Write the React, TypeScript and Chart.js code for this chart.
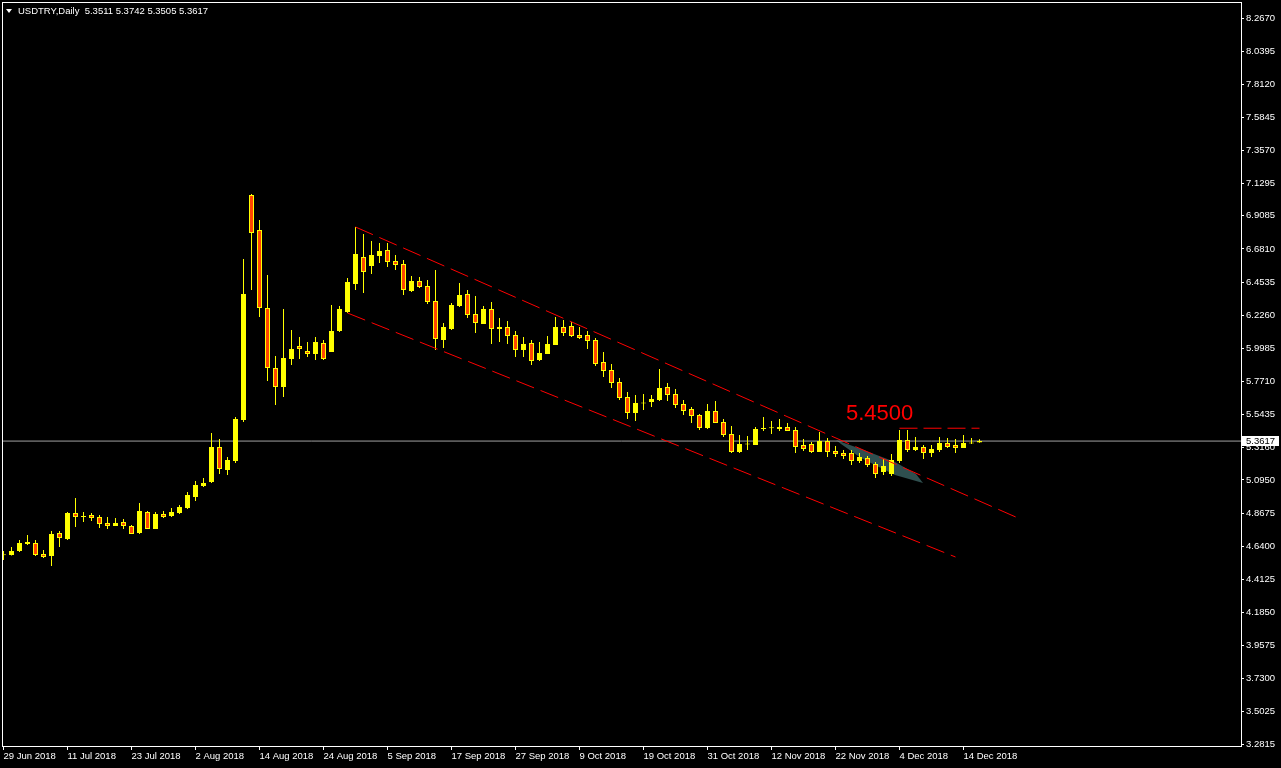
import React, { useEffect, useRef } from "react";
import { Chart, registerables } from "chart.js";

Chart.register(...registerables);

// ---- Data (USDTRY daily, 29 Jun 2018 .. 18 Dec 2018) ----
const opens = [
  4.5770, 4.5794, 4.6068, 4.6549, 4.6618, 4.5862, 4.5725, 4.7304, 4.6892, 4.8678,
  4.8410, 4.8540, 4.8403, 4.7991, 4.7785, 4.8060, 4.7785, 4.7304, 4.8746, 4.7579,
  4.8609, 4.8472, 4.8678, 4.9021, 4.9776, 5.0531, 5.0806, 5.3210, 5.1631, 5.2249,
  5.5064, 7.0515, 6.8112, 6.2756, 5.8635, 5.7331, 5.9253, 6.0146, 5.9803, 5.9597,
  6.0352, 5.9734, 6.1176, 6.2481, 6.4403, 6.6258, 6.5640, 6.6326, 6.6738, 6.5983,
  6.5777, 6.3923, 6.4609, 6.4266, 6.3236, 6.0558, 6.1313, 6.2893, 6.3717, 6.2344,
  6.1656, 6.2687, 6.1313, 6.1450, 6.0901, 5.9871, 6.0352, 5.9184, 5.9597, 6.0215,
  6.1450, 6.1519, 6.0901, 6.0901, 6.0558, 5.9047, 5.8498, 5.7674, 5.6644, 5.5545,
  5.6197, 5.6300, 5.6438, 5.7331, 5.6850, 5.6163, 5.5820, 5.5408, 5.4515, 5.5682,
  5.4927, 5.4103, 5.2867, 5.3382, 5.3347, 5.4440, 5.4505, 5.4446, 5.4584, 5.4378,
  5.3347, 5.3416, 5.2867, 5.3622, 5.2935, 5.2798, 5.2798, 5.2249, 5.2455, 5.2043,
  5.1493, 5.1356, 5.2249, 5.3691, 5.3004, 5.3210, 5.2798, 5.3004, 5.3485, 5.3347,
  5.3141, 5.3451, 5.3511,
];
const highs = [
  4.6068, 4.6343, 4.6824, 4.7167, 4.6824, 4.6137, 4.7442, 4.7442, 4.8746, 4.9707,
  4.8746, 4.8678, 4.8540, 4.8403, 4.8334, 4.8266, 4.7854, 4.9364, 4.8815, 4.8746,
  4.8815, 4.9021, 4.9227, 5.0119, 5.0874, 5.1080, 5.4172, 5.3759, 5.2524, 5.5271,
  6.6121, 7.0584, 6.8799, 6.5022, 5.9459, 6.2687, 6.1244, 6.0764, 6.0421, 6.0764,
  6.0558, 6.2962, 6.2893, 6.4815, 6.8318, 6.7837, 6.7357, 6.7219, 6.7219, 6.6395,
  6.6052, 6.4953, 6.4884, 6.4678, 6.5365, 6.1725, 6.3099, 6.4472, 6.3992, 6.3580,
  6.2893, 6.3168, 6.2069, 6.1862, 6.1176, 6.0764, 6.0558, 6.0421, 6.0833, 6.2138,
  6.1931, 6.1794, 6.1450, 6.1176, 6.0695, 5.9734, 5.8910, 5.7949, 5.6987, 5.6781,
  5.6850, 5.6781, 5.8566, 5.7605, 5.7193, 5.6438, 5.5957, 5.5476, 5.6163, 5.6369,
  5.5133, 5.4652, 5.4034, 5.3966, 5.4584, 5.5270, 5.4996, 5.5133, 5.4858, 5.4584,
  5.3759, 5.3553, 5.4240, 5.3828, 5.3278, 5.3004, 5.3004, 5.2798, 5.2592, 5.2180,
  5.2386, 5.2730, 5.4378, 5.4378, 5.3897, 5.3347, 5.3347, 5.3897, 5.3828, 5.3759,
  5.4034, 5.3828, 5.3742,
];
const lows = [
  4.5450, 4.5760, 4.6000, 4.6480, 4.5725, 4.5587, 4.5038, 4.6343, 4.6824, 4.7716,
  4.8060, 4.8129, 4.7648, 4.7579, 4.7785, 4.7579, 4.7236, 4.7236, 4.7579, 4.7579,
  4.8334, 4.8403, 4.8609, 4.8952, 4.9501, 5.0463, 5.0737, 5.1356, 5.1287, 5.2112,
  5.4927, 6.3992, 6.2138, 5.7743, 5.6094, 5.6644, 5.8841, 5.9253, 5.9390, 5.9184,
  5.9184, 5.9734, 6.1107, 6.2412, 6.3992, 6.3786, 6.5090, 6.5846, 6.5571, 6.5365,
  6.3648, 6.3854, 6.4129, 6.3030, 5.9871, 6.0009, 6.1244, 6.2824, 6.2069, 6.1038,
  6.1656, 6.0284, 6.0421, 6.0284, 5.9390, 5.9390, 5.8841, 5.9116, 5.9597, 6.0215,
  6.0832, 6.0764, 6.0626, 5.9940, 5.8772, 5.8017, 5.7262, 5.6438, 5.5133, 5.4996,
  5.5751, 5.5957, 5.6369, 5.6369, 5.5888, 5.5408, 5.4858, 5.4378, 5.4446, 5.4858,
  5.3897, 5.2798, 5.2798, 5.3004, 5.3347, 5.4309, 5.4103, 5.4309, 5.4309, 5.2798,
  5.2935, 5.2798, 5.2867, 5.2524, 5.2524, 5.2386, 5.1974, 5.2112, 5.1837, 5.1081,
  5.1287, 5.1219, 5.2112, 5.2867, 5.2935, 5.2386, 5.2524, 5.2867, 5.3141, 5.2798,
  5.3141, 5.3416, 5.3505,
];
const closes = [
  4.5790, 4.6068, 4.6618, 4.6686, 4.5794, 4.5656, 4.7236, 4.6961, 4.8678, 4.8403,
  4.8403, 4.8334, 4.7922, 4.7785, 4.7991, 4.7785, 4.7236, 4.8815, 4.7579, 4.8609,
  4.8403, 4.8746, 4.9090, 4.9913, 5.0600, 5.0737, 5.3210, 5.1700, 5.2318, 5.5133,
  6.3717, 6.7906, 6.2756, 5.8635, 5.7331, 5.9322, 5.9940, 5.9940, 5.9597, 6.0421,
  5.9253, 6.1176, 6.2687, 6.4541, 6.6464, 6.5228, 6.6395, 6.6670, 6.5915, 6.5709,
  6.3992, 6.4609, 6.4197, 6.3167, 6.0626, 6.1450, 6.2962, 6.3648, 6.2275, 6.1725,
  6.2687, 6.1313, 6.1450, 6.0832, 5.9871, 6.0284, 5.9116, 5.9665, 6.0284, 6.1450,
  6.1038, 6.0832, 6.0695, 6.0489, 5.8910, 5.8429, 5.7605, 5.6575, 5.5545, 5.6232,
  5.6232, 5.6506, 5.7262, 5.6781, 5.6094, 5.5682, 5.5339, 5.4515, 5.5682, 5.4858,
  5.4034, 5.2867, 5.3416, 5.3416, 5.4446, 5.4446, 5.4515, 5.4584, 5.4309, 5.3210,
  5.3073, 5.2867, 5.3622, 5.2867, 5.2730, 5.2592, 5.2249, 5.2524, 5.1974, 5.1356,
  5.1905, 5.2318, 5.3691, 5.3004, 5.3210, 5.2798, 5.3073, 5.3485, 5.3210, 5.3141,
  5.3485, 5.3485, 5.3617,
];

const xTickIndex = [0, 8, 16, 24, 32, 40, 48, 56, 64, 72, 80, 88, 96, 104, 112, 120];
const xTickLabels = [
  "29 Jun 2018", "11 Jul 2018", "23 Jul 2018", "2 Aug 2018", "14 Aug 2018", "24 Aug 2018",
  "5 Sep 2018", "17 Sep 2018", "27 Sep 2018", "9 Oct 2018", "19 Oct 2018", "31 Oct 2018",
  "12 Nov 2018", "22 Nov 2018", "4 Dec 2018", "14 Dec 2018",
];
const yTicks = [
  8.2670, 8.0395, 7.8120, 7.5845, 7.3570, 7.1295, 6.9085, 6.6810, 6.4535, 6.2260, 5.9985,
  5.7710, 5.5435, 5.3160, 5.0950, 4.8675, 4.6400, 4.4125, 4.1850, 3.9575, 3.7300, 3.5025, 3.2815,
];

// trend lines / objects (bar index, price)
const upperChannel = [{ x: 44, y: 6.8318 }, { x: 127.1, y: 4.8266 }];
const lowerChannel = [{ x: 43, y: 6.2412 }, { x: 119, y: 4.5656 }];
const levelLine = [{ x: 112, y: 5.45 }, { x: 122, y: 5.45 }];
const zonePolygon = [
  { x: 104.06, y: 5.3691 }, { x: 107.19, y: 5.3073 }, { x: 111.44, y: 5.2180 },
  { x: 114.06, y: 5.1356 }, { x: 114.94, y: 5.0738 }, { x: 111.44, y: 5.1288 },
  { x: 107.19, y: 5.2455 }, { x: 104.69, y: 5.3416 }, { x: 104.06, y: 5.3691 },
];
const lastPrice = 5.3617;
const levelText = "5.4500";
const headerText = "USDTRY,Daily  5.3511 5.3742 5.3505 5.3617";

const X_MIN = -0.1875;
const X_MAX = 154.6875;
const Y_MIN = 3.2609;
const Y_MAX = 8.3769;

const YELLOW = "#FFFF00";
const ORANGE = "#FF4500";
const FONT = "'Liberation Sans', Arial, sans-serif";

const framePlugin = {
  id: "frameAndTag",
  afterDraw(chart: any) {
    const { ctx, chartArea, scales } = chart;
    ctx.save();
    ctx.strokeStyle = "#FFFFFF";
    ctx.lineWidth = 1;
    ctx.strokeRect(
      Math.round(chartArea.left) + 0.5,
      Math.round(chartArea.top) + 0.5,
      Math.round(chartArea.right) - Math.round(chartArea.left),
      Math.round(chartArea.bottom) - Math.round(chartArea.top) - 1
    );
    const y = Math.round(scales.y.getPixelForValue(lastPrice));
    const x0 = Math.round(chartArea.right) + 1;
    ctx.fillStyle = "#FFFFFF";
    ctx.fillRect(x0, y - 5, 37, 10);
    ctx.fillStyle = "#000000";
    ctx.font = `9.5px ${FONT}`;
    ctx.textBaseline = "middle";
    ctx.textAlign = "left";
    ctx.fillText(lastPrice.toFixed(4), x0 + 4, y + 0.5);
    ctx.restore();
  },
};

export default function App() {
  const ref = useRef<HTMLCanvasElement>(null);

  useEffect(() => {
    document.body.style.margin = "0";
    document.body.style.background = "#000";
    document.body.style.overflow = "hidden";
    const idx = opens.map((_, i) => i);
    const wickData = idx.map((i) => ({ x: i, y: [lows[i], highs[i]] }));
    const bodyData = idx.map((i) => ({ x: i, y: [opens[i], closes[i]] }));
    const bodyColors = idx.map((i) => (closes[i] >= opens[i] ? YELLOW : ORANGE));

    const chart = new Chart(ref.current as HTMLCanvasElement, {
      type: "bar",
      data: {
        datasets: [
          {
            type: "line",
            data: zonePolygon,
            borderWidth: 0,
            borderColor: "rgba(0,0,0,0)",
            backgroundColor: "#2F4F4F",
            fill: "shape",
            pointRadius: 0,
            tension: 0,
            order: 6,
          } as any,
          {
            type: "line",
            data: [{ x: X_MIN, y: lastPrice }, { x: X_MAX, y: lastPrice }],
            borderWidth: 1,
            borderColor: "#A0A0A0",
            pointRadius: 0,
            fill: false,
            order: 5,
          } as any,
          {
            type: "bar",
            data: wickData,
            backgroundColor: YELLOW,
            borderWidth: 0,
            barThickness: 1,
            grouped: false,
            inflateAmount: 0,
            order: 3,
          } as any,
          {
            type: "bar",
            data: bodyData,
            backgroundColor: bodyColors,
            borderColor: YELLOW,
            borderWidth: 1,
            borderSkipped: false,
            barThickness: 5,
            minBarLength: 1,
            grouped: false,
            inflateAmount: 0,
            order: 2,
          } as any,
          {
            type: "line",
            data: upperChannel,
            borderWidth: 1,
            borderColor: "#FF0000",
            borderDash: [19, 7],
            pointRadius: 0,
            fill: false,
            order: 0,
          } as any,
          {
            type: "line",
            data: lowerChannel,
            borderWidth: 1,
            borderColor: "#FF0000",
            borderDash: [19, 7],
            pointRadius: 0,
            fill: false,
            order: 0,
          } as any,
          {
            type: "line",
            data: levelLine,
            borderWidth: 1,
            borderColor: "#FF0000",
            borderDash: [18, 6],
            pointRadius: 0,
            fill: false,
            order: 0,
          } as any,
        ],
      },
      options: {
        responsive: false,
        animation: false,
        events: [],
        layout: { padding: { left: 2, top: 2, right: 0, bottom: 0 } },
        plugins: {
          legend: { display: false },
          tooltip: { enabled: false },
          title: { display: false },
        },
        scales: {
          x: {
            type: "linear",
            position: "bottom",
            min: X_MIN,
            max: X_MAX,
            offset: false,
            afterBuildTicks: (s: any) => {
              s.ticks = xTickIndex.map((v) => ({ value: v }));
            },
            afterFit: (s: any) => {
              s.height = 21;
              s.paddingLeft = 0;
              s.paddingRight = 0;
              s.paddingTop = 0;
              s.paddingBottom = 0;
            },
            ticks: {
              autoSkip: false,
              maxRotation: 0,
              minRotation: 0,
              align: "start",
              padding: 1,
              color: "#FFFFFF",
              font: { family: FONT, size: 9.5 },
              callback: (v: any) => {
                const k = xTickIndex.indexOf(Number(v));
                return k >= 0 ? xTickLabels[k] : "";
              },
            },
            grid: {
              display: true,
              offset: false,
              drawOnChartArea: false,
              drawTicks: true,
              tickLength: 3,
              color: "#FFFFFF",
            },
            border: { display: false },
          } as any,
          y: {
            type: "linear",
            position: "right",
            min: Y_MIN,
            max: Y_MAX,
            afterBuildTicks: (s: any) => {
              s.ticks = yTicks.map((v) => ({ value: v }));
            },
            afterFit: (s: any) => {
              s.width = 40;
              s.paddingLeft = 0;
              s.paddingRight = 0;
              s.paddingTop = 0;
              s.paddingBottom = 0;
            },
            ticks: {
              autoSkip: false,
              padding: 2,
              color: "#FFFFFF",
              font: { family: FONT, size: 9.5 },
              callback: (v: any) => Number(v).toFixed(4),
            },
            grid: {
              display: true,
              drawOnChartArea: false,
              drawTicks: true,
              tickLength: 3,
              color: "#FFFFFF",
            },
            border: { display: false },
          } as any,
        },
      } as any,
      plugins: [framePlugin],
    });
    return () => chart.destroy();
  }, []);

  return (
    <div style={{ position: "relative", width: 1281, height: 768, background: "#000", overflow: "hidden" }}>
      <canvas ref={ref} width={1281} height={768} style={{ display: "block", width: 1281, height: 768 }} />
      <div
        style={{
          position: "absolute",
          left: 6,
          top: 9,
          width: 0,
          height: 0,
          borderLeft: "3px solid transparent",
          borderRight: "3px solid transparent",
          borderTop: "4px solid #FFFFFF",
        }}
      />
      <div
        style={{
          position: "absolute",
          left: 18,
          top: 5,
          font: `9.5px ${FONT}`,
          lineHeight: "11px",
          color: "#FFFFFF",
          whiteSpace: "pre",
        }}
      >
        {headerText}
      </div>
      <div
        style={{
          position: "absolute",
          left: 846,
          top: 402,
          font: `22px ${FONT}`,
          lineHeight: "22px",
          color: "#FF0000",
          whiteSpace: "pre",
        }}
      >
        {levelText}
      </div>
    </div>
  );
}
